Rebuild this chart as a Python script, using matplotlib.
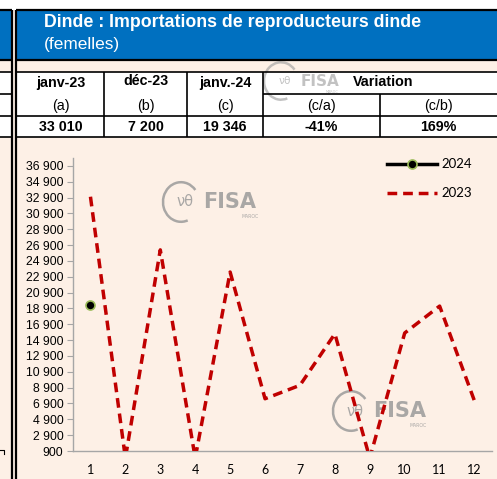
import matplotlib
matplotlib.use('Agg')
import matplotlib.pyplot as plt
from matplotlib.patches import Rectangle, Arc

W, H = 497, 479
BG = '#FDF0E6'
BLUE = '#0070C0'
RED = '#C00000'

# ---------------- data ----------------
months = list(range(1, 13))
values_2023 = [33010, 0, 26300, 0, 23500, 7500, 9200, 15700, 0, 15800, 19200, 7200]
months_2024 = [1]
values_2024 = [19346]
yticks = list(range(900, 37000, 2000))
title = "Dinde : Importations de reproducteurs dinde"
subtitle = "(femelles)"
col_headers = ["janv-23", "déc-23", "janv.-24"]
variation_label = "Variation"
col_letters = ["(a)", "(b)", "(c)", "(c/a)", "(c/b)"]
row_values = ["33 010", "7 200", "19 346", "-41%", "169%"]

fig = plt.figure(figsize=(W / 100, H / 100), dpi=100)
fig.patch.set_facecolor(BG)

# ---------- layout layer in pixel coordinates ----------
lay = fig.add_axes([0, 0, 1, 1])
lay.set_xlim(0, W)
lay.set_ylim(H, 0)
lay.axis('off')

def rect(x0, y0, x1, y1, color):
    lay.add_patch(Rectangle((x0, y0), x1 - x0, y1 - y0, facecolor=color, edgecolor='none', zorder=1))

def hline(y, x0, x1, lw=1.4):
    lay.plot([x0, x1], [y, y], color='black', lw=lw, solid_capstyle='butt', zorder=3)

def vline(x, y0, y1, lw=1.4):
    lay.plot([x, x], [y0, y1], color='black', lw=lw, solid_capstyle='butt', zorder=3)

rect(0, 0, W, 10, 'white')
rect(0, 10, 12, 60, BLUE)
rect(16, 10, W, 60, BLUE)
rect(0, 72, 12, 137, 'white')
rect(16, 72, W, 137, 'white')

for y in (10, 60):
    hline(y, 0, 12, lw=1.6)
    hline(y, 16, W, lw=1.6)
for y in (72, 116, 137):
    hline(y, 0, 12, lw=1.2)
    hline(y, 16, W, lw=1.2)
hline(94, 0, 12, lw=1.2)
hline(94, 263, W, lw=1.2)
vline(12, 10, H, lw=1.6)
vline(16, 10, H, lw=1.6)
for x in (104, 187, 263):
    vline(x, 72, 137, lw=1.2)
vline(380, 94, 137, lw=1.2)
# small bracket mark at lower left
lay.plot([0, 4, 4], [450, 450, 454], color='black', lw=0.8, zorder=3)

ff = 'Liberation Sans'
lay.text(44, 22, title, color='white', fontsize=12.8, fontweight='bold', family=ff,
         ha='left', va='center', zorder=4)
lay.text(44, 44, subtitle, color='white', fontsize=12.4, family=ff,
         ha='left', va='center', zorder=4)

TS = 10.3
centers = [60.5, 145.5, 225, 321.5, 438.5]
for cx, t, yy in zip(centers[:3], col_headers, (83, 81, 83)):
    lay.text(cx, yy, t, fontsize=TS, fontweight='bold', family=ff, ha='center', va='center', zorder=4)
lay.text(383, 82, variation_label, fontsize=TS, fontweight='bold', family=ff, ha='center', va='center', zorder=4)
for cx, t in zip(centers, col_letters):
    lay.text(cx, 106, t, fontsize=TS, family=ff, ha='center', va='center', zorder=4)
for cx, t in zip(centers, row_values):
    lay.text(cx, 127, t, fontsize=TS, fontweight='bold', family=ff, ha='center', va='center', zorder=4)

# watermarks
def watermark(ix, y, iw, fx, fs, mx, my, alpha):
    col = '#9A9A9A'
    lay.add_patch(Arc((ix, y), iw, iw * 1.1, theta1=70, theta2=320,
                      color=col, lw=1.8, alpha=alpha, zorder=2))
    lay.text(ix + iw * 0.12, y, "\u03bd\u03b8", fontsize=fs * 0.7, color=col,
             alpha=alpha, ha='center', va='center', family='DejaVu Sans', zorder=2)
    lay.text(fx, y, "FISA", fontsize=fs, color=col, alpha=alpha,
             fontweight='bold', family='DejaVu Sans', ha='left', va='center', zorder=2)
    lay.text(mx, my, "MAROC", fontsize=fs * 0.22, color=col,
             alpha=alpha, family='DejaVu Sans', ha='center', va='top', zorder=2)

watermark(281, 81, 34, 301, 11, 332, 90, 0.6)
watermark(181, 202, 36, 203, 15, 250, 214, 0.85)
watermark(351, 411, 36, 373, 15, 418, 423, 0.85)

# ---------------- chart ----------------
ax = fig.add_axes([73 / W, (H - 451) / H, (492 - 73) / W, (451 - 158) / H])
ax.set_facecolor('none')
ax.plot(months, values_2023, color=RED, lw=2.5, dashes=(2.8, 1.7), label='2023', zorder=3)
ax.plot(months_2024, values_2024, color='black', lw=2.5, marker='o', markersize=6.5,
        markerfacecolor='black', markeredgecolor='#9BBB59', markeredgewidth=1.2,
        label='2024', zorder=4)

ax.set_xlim(0.5, 12.5)
ax.set_ylim(900, 37900)
ax.set_yticks(yticks)
ax.set_yticklabels([f"{v:,}".replace(',', ' ') for v in yticks], family=ff, fontsize=8.8)
ax.set_xticks(months)
ax.set_xticklabels([str(m) for m in months], family='Lato', fontsize=9)
for s in ('top', 'right'):
    ax.spines[s].set_visible(False)
ax.spines['left'].set_color('#A6A6A6')
ax.spines['bottom'].set_color('#A6A6A6')
ax.spines['left'].set_linewidth(1.0)
ax.spines['bottom'].set_linewidth(1.0)
ax.tick_params(axis='y', length=4, color='#A6A6A6', pad=3)
ax.tick_params(axis='x', length=0, pad=9)

handles, labels = ax.get_legend_handles_labels()
leg = ax.legend([handles[1], handles[0]], [labels[1], labels[0]], loc='upper right',
                bbox_to_anchor=(0.98, 1.04), frameon=False, handlelength=3.8,
                labelspacing=1.3, handletextpad=0.3, prop={'family': 'Lato', 'size': 9.5})

fig.savefig('out.png', dpi=100, facecolor=BG)
